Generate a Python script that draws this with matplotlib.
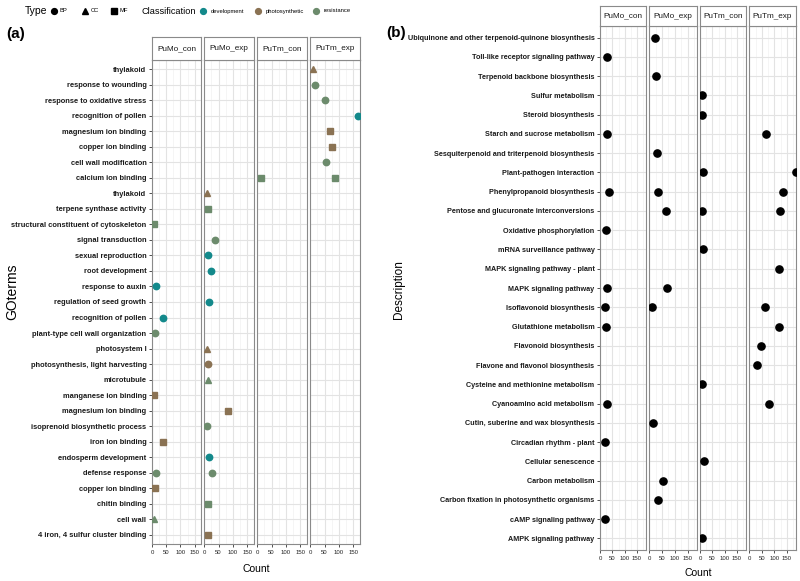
import matplotlib
matplotlib.use("Agg")
import matplotlib.pyplot as plt
from matplotlib.ticker import MultipleLocator
import numpy as np

SANS = ["Liberation Sans", "DejaVu Sans"]

samples = ["PuMo_con", "PuMo_exp", "PuTm_con", "PuTm_exp"]

# ---- panel (a): GO terms, top row first ----
go_terms = [
    "thylakoid", "response to wounding", "response to oxidative stress",
    "recognition of pollen", "magnesium ion binding", "copper ion binding",
    "cell wall modification", "calcium ion binding", "thylakoid",
    "terpene synthase activity", "structural constituent of cytoskeleton",
    "signal transduction", "sexual reproduction", "root development",
    "response to auxin", "regulation of seed growth", "recognition of pollen",
    "plant-type cell wall organization", "photosystem I",
    "photosynthesis, light harvesting", "microtubule", "manganese ion binding",
    "magnesium ion binding", "isoprenoid biosynthetic process",
    "iron ion binding", "endosperm development", "defense response",
    "copper ion binding", "chitin binding", "cell wall",
    "4 iron, 4 sulfur cluster binding",
]
# one entry per point: row index in go_terms, sample, count, type, classification
go_row = [0, 1, 2, 3, 4, 5, 6, 7, 7, 8, 9, 10, 11, 12, 13, 14, 15, 16, 17,
          18, 19, 20, 21, 22, 23, 24, 25, 26, 26, 27, 28, 29, 30]
go_sample = ["PuTm_exp", "PuTm_exp", "PuTm_exp", "PuTm_exp", "PuTm_exp",
             "PuTm_exp", "PuTm_exp", "PuTm_con", "PuTm_exp", "PuMo_exp",
             "PuMo_exp", "PuMo_con", "PuMo_exp", "PuMo_exp", "PuMo_exp",
             "PuMo_con", "PuMo_exp", "PuMo_con", "PuMo_con", "PuMo_exp",
             "PuMo_exp", "PuMo_exp", "PuMo_con", "PuMo_exp", "PuMo_exp",
             "PuMo_con", "PuMo_exp", "PuMo_con", "PuMo_exp", "PuMo_con",
             "PuMo_exp", "PuMo_con", "PuMo_exp"]
go_count = [11, 17, 52, 165, 69, 76, 54, 13, 85, 11, 15, 8, 36, 14, 24, 14,
            17, 37, 10, 11, 15, 15, 8, 82, 10, 38, 17, 14, 27, 9, 14, 8, 13]
go_type = ["CC", "BP", "BP", "BP", "MF", "MF", "BP", "MF", "MF", "CC", "MF",
           "MF", "BP", "BP", "BP", "BP", "BP", "BP", "BP", "CC", "BP", "CC",
           "MF", "MF", "BP", "MF", "BP", "BP", "BP", "MF", "MF", "CC", "MF"]
go_class = ["photosynthetic", "resistance", "resistance", "development",
            "photosynthetic", "photosynthetic", "resistance", "resistance",
            "resistance", "photosynthetic", "resistance", "resistance",
            "resistance", "development", "development", "development",
            "development", "development", "resistance", "photosynthetic",
            "photosynthetic", "resistance", "photosynthetic", "photosynthetic",
            "resistance", "photosynthetic", "development", "resistance",
            "resistance", "photosynthetic", "resistance", "resistance",
            "photosynthetic"]

# ---- panel (b): KEGG descriptions, top row first ----
kegg_desc = [
    "Ubiquinone and other terpenoid-quinone biosynthesis",
    "Toll-like receptor signaling pathway", "Terpenoid backbone biosynthesis",
    "Sulfur metabolism", "Steroid biosynthesis", "Starch and sucrose metabolism",
    "Sesquiterpenoid and triterpenoid biosynthesis", "Plant-pathogen interaction",
    "Phenylpropanoid biosynthesis", "Pentose and glucuronate interconversions",
    "Oxidative phosphorylation", "mRNA surveillance pathway",
    "MAPK signaling pathway - plant", "MAPK signaling pathway",
    "Isoflavonoid biosynthesis", "Glutathione metabolism",
    "Flavonoid biosynthesis", "Flavone and flavonol biosynthesis",
    "Cysteine and methionine metabolism", "Cyanoamino acid metabolism",
    "Cutin, suberine and wax biosynthesis", "Circadian rhythm - plant",
    "Cellular senescence", "Carbon metabolism",
    "Carbon fixation in photosynthetic organisms", "cAMP signaling pathway",
    "AMPK signaling pathway",
]
n = np.nan
kegg_pumo_con = [n, 29, n, n, n, 29, n, n, 35, n, 25, n, n, 29, 18, 22, n, n,
                 n, 29, n, 20, n, n, n, 20, n]
kegg_pumo_exp = [24, n, 26, n, n, n, 30, n, 36, 65, n, n, n, 70, 12, n, n, n,
                 n, n, 13, n, n, 53, 34, n, n]
kegg_putm_con = [n, n, n, 9, 7, n, n, 10, n, 9, n, 13, n, n, n, n, n, n, 9, n,
                 n, n, 16, n, n, n, 8]
kegg_putm_exp = [n, n, n, n, n, 65, n, 185, 133, 123, n, n, 120, n, 61, 120,
                 45, 30, n, 77, n, n, n, n, n, n, n]

class_colors = {"development": "#13898b", "photosynthetic": "#8a7253",
                "resistance": "#6c8b6c"}
type_markers = {"BP": "o", "CC": "^", "MF": "s"}
type_sizes = {"BP": 4.6, "CC": 5.0, "MF": 4.4}

W, H = 800, 581
fig = plt.figure(figsize=(W / 100, H / 100), dpi=100)


def px_axes(x0, y0, x1, y1):
    return fig.add_axes([x0 / W, 1 - y1 / H, (x1 - x0) / W, (y1 - y0) / H])


def make_facets(xspans, top, bottom, strip_top, nrows, labels, xlim, lab_size):
    axes = []
    for i, (x0, x1) in enumerate(xspans):
        ax = px_axes(x0, top, x1, bottom)
        ax.set_xlim(*xlim)
        ax.set_ylim(0.4, nrows + 0.6)
        ax.xaxis.set_minor_locator(MultipleLocator(25))
        ax.set_yticks(np.arange(nrows, 0, -1))
        ax.grid(which="major", color="#e3e3e3", lw=0.8)
        ax.grid(which="minor", axis="x", color="#f1f1f1", lw=0.5)
        ax.set_axisbelow(True)
        for s in ax.spines.values():
            s.set_color("#8a8a8a")
            s.set_linewidth(0.8)
        ax.tick_params(axis="both", length=2.5, width=0.6, color="#333333",
                       pad=1.5)
        ax.tick_params(axis="x", which="minor", length=0)
        ax.set_xticks([0, 50, 100, 150])
        ax.set_xticklabels(["0", "50", "100", "150"], family=SANS,
                           fontsize=4.3, color="#222222")
        if i == 0:
            ax.set_yticklabels(labels, family=SANS, fontsize=lab_size,
                               weight="bold", color="#1a1a1a")
        else:
            ax.tick_params(axis="y", left=False, labelleft=False)
        # strip
        sa = px_axes(x0, strip_top, x1, top)
        sa.set_xticks([])
        sa.set_yticks([])
        for s in sa.spines.values():
            s.set_color("#8a8a8a")
            s.set_linewidth(0.8)
        sa.text(0.5, 0.5, samples[i], ha="center", va="center",
                family=SANS, fontsize=5.9, color="#1a1a1a",
                transform=sa.transAxes)
        axes.append(ax)
    return axes


# ---- panel (a) ----
na = len(go_terms)
axes_a = make_facets([(152, 201), (204, 254), (257, 307), (310, 360)],
                     60, 544, 37, na, go_terms, (-0.5, 172.5), 5.4)
for r, s, c, t, k in zip(go_row, go_sample, go_count, go_type, go_class):
    ax = axes_a[samples.index(s)]
    ax.plot([c], [na - r], linestyle="none", marker=type_markers[t],
            markersize=type_sizes[t], color=class_colors[k], zorder=3)

# ---- panel (b) ----
nb = len(kegg_desc)
axes_b = make_facets([(600, 646), (649, 697), (700, 746), (749, 796)],
                     26, 550, 6, nb, kegg_desc, (-1, 187), 5.2)
ypos_b = np.arange(nb, 0, -1)
for ax, vals in zip(axes_b, [kegg_pumo_con, kegg_pumo_exp,
                             kegg_putm_con, kegg_putm_exp]):
    ax.plot(vals, ypos_b, linestyle="none", marker="o", markersize=5.2,
            color="black", zorder=3)

# axis titles and panel tags
fig.text(256 / W, 1 - 569 / H, "Count", ha="center", va="center",
         family=SANS, fontsize=7.5)
fig.text(698 / W, 1 - 573 / H, "Count", ha="center", va="center",
         family=SANS, fontsize=7.5)
fig.text(12 / W, 1 - 292 / H, "GOterms", ha="center", va="center",
         rotation=90, family=SANS, fontsize=10)
fig.text(399 / W, 1 - 290 / H, "Description", ha="center", va="center",
         rotation=90, family=SANS, fontsize=8.5)
fig.text(6 / W, 1 - 34 / H, "(a)", ha="left", va="center", family=SANS,
         fontsize=11, weight="bold")
fig.text(386 / W, 1 - 33 / H, "(b)", ha="left", va="center", family=SANS,
         fontsize=11, weight="bold")

# ---- legend row across the top ----
lg = px_axes(0, 0, 400, 22)
lg.set_xlim(0, 400)
lg.set_ylim(22, 0)
lg.axis("off")
lg.text(25, 11, "Type", ha="left", va="center", family=SANS, fontsize=7.5)
for t, x in zip(["BP", "CC", "MF"], [54, 85, 114]):
    lg.plot([x], [11], marker=type_markers[t], color="black",
            markersize=type_sizes[t] - 0.4, linestyle="none")
    lg.text(x + 6, 11, t, ha="left", va="center", family=SANS, fontsize=4.2)
lg.text(142, 11, "Classification", ha="left", va="center", family=SANS,
        fontsize=6.6)
for k, x in zip(["development", "photosynthetic", "resistance"],
                [203, 258, 316]):
    lg.plot([x], [11], marker="o", color=class_colors[k], markersize=4.2,
            linestyle="none")
    lg.text(x + 8, 11, k, ha="left", va="center", family=SANS, fontsize=4.2)

fig.savefig("out.png", dpi=100)
